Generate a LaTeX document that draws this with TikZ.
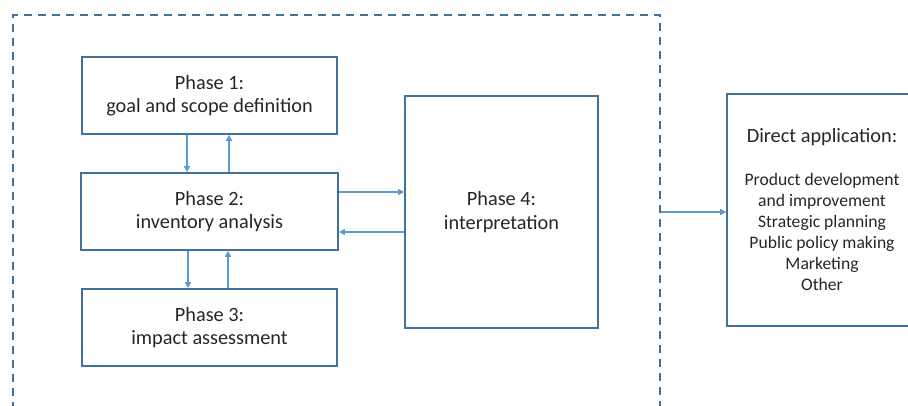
\documentclass[tikz,border=0pt]{standalone}
\usepackage{fontspec}
\setmainfont{Carlito}
\usetikzlibrary{arrows.meta}
\definecolor{boxblue}{HTML}{41719C}
\definecolor{arrblue}{HTML}{5B9BD5}
\definecolor{txt}{HTML}{262626}
\begin{document}
\begin{tikzpicture}[x=1pt,y=-1pt,
  phasebox/.style={draw=boxblue,line width=1.6pt,inner sep=0pt,align=center,text=txt,
    font=\fontsize{20.3}{23.5}\selectfont},
  appbox/.style={phasebox,font=\fontsize{17.6}{21}\selectfont},
  arr/.style={draw=arrblue,line width=1.3pt,-{Triangle[length=6pt,width=6pt]}},
  framebox/.style={draw=boxblue,line width=1.6pt,dash pattern=on 8pt off 6pt,inner sep=0pt}]
\useasboundingbox (0,0) rectangle (908,405);
\clip (0,0) rectangle (908,405);
\node[framebox,minimum width=647pt,minimum height=405pt] (frame) at (336.5,217.5) {};
\node[phasebox,minimum width=255pt,minimum height=77pt] (p1) at (209.5,95.5) {Phase 1:\\goal and scope definition};
\node[phasebox,minimum width=257pt,minimum height=77pt] (p2) at (209.5,211.5) {Phase 2:\\inventory analysis};
\node[phasebox,minimum width=255pt,minimum height=77pt] (p3) at (209.5,327.5) {Phase 3:\\impact assessment};
\node[phasebox,minimum width=193pt,minimum height=232pt] (p4) at (501.5,212) {Phase 4:\\interpretation};
\node[appbox,minimum width=190pt,minimum height=232pt] (app) at (822,210)
  {{\fontsize{20.3}{23.5}\selectfont Direct application:}\\[22pt]Product development\\and improvement\\Strategic planning\\Public policy making\\Marketing\\Other};
\draw[arr] ([xshift=-22.5pt]p1.south) -- ([xshift=-22.5pt]p2.north);
\draw[arr] ([xshift=19.5pt]p2.north) -- ([xshift=19.5pt]p1.south);
\draw[arr] ([xshift=-21.5pt]p2.south) -- ([xshift=-21.5pt]p3.north);
\draw[arr] ([xshift=18.5pt]p3.north) -- ([xshift=18.5pt]p2.south);
\coordinate (a) at ([yshift=19.5pt]p2.east);
\coordinate (b) at ([yshift=-20.5pt]p2.east);
\draw[arr] (a) -- (a -| p4.west);
\draw[arr] (b -| p4.west) -- (b);
\draw[arr] (frame.east |- p4.center) -- (app.west |- p4.center);
\end{tikzpicture}
\end{document}
